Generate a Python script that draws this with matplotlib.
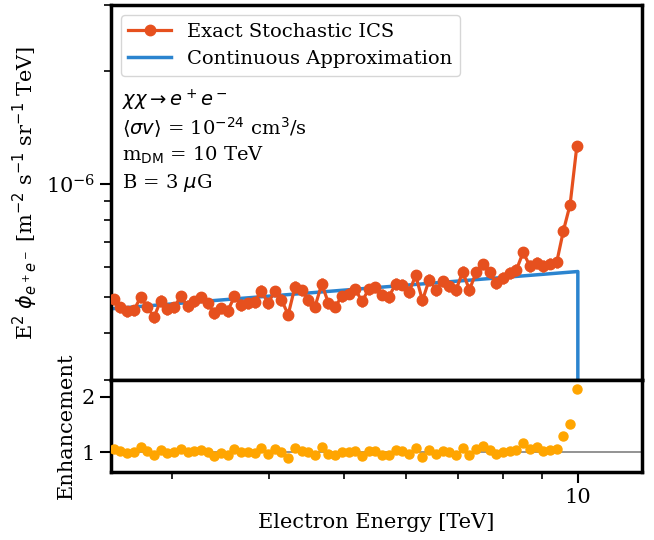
import numpy as np
import matplotlib.pyplot as plt
from matplotlib.ticker import NullFormatter, FormatStrFormatter

plt.rcParams['font.family'] = 'DejaVu Serif'
plt.rcParams['mathtext.fontset'] = 'dejavusans'

# energy bins (TeV), log spaced
E_MIN, E_MAX, N_BINS = 2.52, 9.97, 70
energy = np.geomspace(E_MIN, E_MAX, N_BINS)

# exact stochastic ICS flux, units of 1e-7
flux_exact = np.array([
    4.93, 4.69, 4.57, 4.60, 4.98, 4.71, 4.41, 4.88, 4.64, 4.69,
    5.01, 4.73, 4.86, 4.98, 4.81, 4.53, 4.66, 4.59, 5.01, 4.76,
    4.81, 4.84, 5.19, 4.81, 5.17, 4.91, 4.48, 5.31, 5.20, 4.91,
    4.71, 5.41, 4.81, 4.71, 5.01, 5.10, 5.24, 4.86, 5.24, 5.30,
    5.07, 5.00, 5.41, 5.39, 5.15, 5.70, 4.89, 5.55, 5.22, 5.50,
    5.33, 5.22, 5.82, 5.22, 5.81, 6.11, 5.81, 5.44, 5.61, 5.79,
    5.90, 6.57, 6.05, 6.15, 6.05, 6.13, 6.18, 7.50, 8.81, 12.6,
]) * 1e-7
rel_err = 0.035

# continuous approximation
cont_energy = [2.45, 5.0, 10.0, 10.0]
cont_flux = [4.63e-7, 5.21e-7, 5.84e-7, 1e-9]

# enhancement (exact / continuous)
enhancement = [
    1.06, 1.02, 0.99, 1.00, 1.10, 1.02, 0.95, 1.05, 0.99, 1.01,
    1.07, 1.01, 1.03, 1.05, 1.01, 0.94, 0.99, 0.96, 1.06, 1.00,
    1.00, 0.99, 1.08, 0.98, 1.07, 1.01, 0.91, 1.08, 1.03, 1.01,
    0.95, 1.09, 0.97, 0.95, 1.00, 1.01, 1.02, 0.94, 1.02, 1.02,
    0.96, 0.95, 1.04, 1.03, 0.97, 1.08, 0.92, 1.05, 0.97, 1.02,
    1.00, 0.96, 1.08, 0.95, 1.07, 1.12, 1.05, 0.98, 1.01, 1.03,
    1.05, 1.17, 1.06, 1.09, 1.03, 1.05, 1.07, 1.30, 1.51, 2.14,
]

c_exact = '#e6501e'
c_cont = '#2b84cf'
c_enh = '#ffa500'

fig = plt.figure(figsize=(6.54, 5.4), dpi=100)
ax1 = fig.add_axes([0.1697, 0.2963, 0.8120, 0.6944])
ax2 = fig.add_axes([0.1697, 0.1259, 0.8120, 0.1704], sharex=ax1)

ax1.errorbar(energy, flux_exact, yerr=flux_exact * rel_err, fmt='none',
             ecolor=c_exact, elinewidth=2, capsize=0, zorder=3)
ax1.plot(energy, flux_exact, 'o-', color=c_exact, ms=7.5, lw=2.3,
         label='Exact Stochastic ICS', zorder=4)
ax1.plot(cont_energy, cont_flux, '-', color=c_cont, lw=2.5,
         label='Continuous Approximation', zorder=2)

ax1.set_xscale('log')
ax1.set_yscale('log')
ax1.set_xlim(2.5, 12.1)
ax1.set_ylim(3e-7, 3e-6)
ax1.yaxis.set_minor_formatter(NullFormatter())
ax1.tick_params(axis='x', labelbottom=False)
ax1.set_ylabel(r'E$^2$ $\phi_{e^+e^-}$ [m$^{-2}$ s$^{-1}$ sr$^{-1}$ TeV]', fontsize=15)

ax1.legend(loc='upper left', fontsize=14, handlelength=2.2)

tx = 0.021
ax1.text(tx, 0.747, r'$\chi\chi \rightarrow e^+e^-$', transform=ax1.transAxes,
         fontsize=14, va='center')
ax1.text(tx, 0.672, r'$\langle \sigma v \rangle$ = 10$^{-24}$ cm$^3$/s',
         transform=ax1.transAxes, fontsize=14, va='center')
ax1.text(tx, 0.600, r'm$_{\rm DM}$ = 10 TeV', transform=ax1.transAxes,
         fontsize=14, va='center')
ax1.text(tx, 0.525, r'B = 3 $\mu$G', transform=ax1.transAxes,
         fontsize=14, va='center')

ax2.axhline(1, color='gray', lw=1.2, zorder=1)
ax2.plot(energy, enhancement, 'o', color=c_enh, ms=6.5, zorder=3)
ax2.set_ylim(0.65, 2.3)
ax2.set_yticks([1, 2])
ax2.set_ylabel('Enhancement', fontsize=15)
ax2.set_xlabel('Electron Energy [TeV]', fontsize=15)
ax2.xaxis.set_major_formatter(FormatStrFormatter('%g'))
ax2.xaxis.set_minor_formatter(NullFormatter())

for ax in (ax1, ax2):
    for sp in ax.spines.values():
        sp.set_linewidth(2.5)
    ax.tick_params(which='major', length=8, width=1.5, labelsize=15)
    ax.tick_params(which='minor', length=5, width=1.2)

fig.savefig('out.png', dpi=100)
